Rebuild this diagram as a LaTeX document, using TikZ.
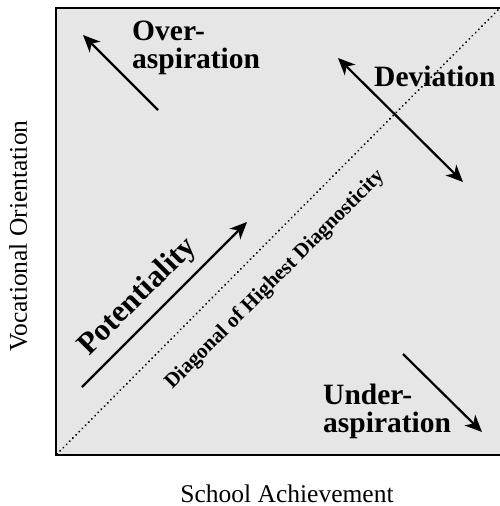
\documentclass[tikz,border=0pt]{standalone}
\usepackage{fontspec}
\setmainfont{Liberation Serif}
\usetikzlibrary{arrows.meta}
\definecolor{panel}{RGB}{230,230,230}
\begin{document}
\begin{tikzpicture}[x=1pt,y=-1pt,
  big/.style={font=\fontsize{29.5}{28}\selectfont\bfseries, inner sep=0pt},
  axislabel/.style={font=\fontsize{25.5}{28}\selectfont, inner sep=0pt},
  arr/.style={line width=2.2pt, -{Stealth[length=17pt,width=15pt,inset=5pt]}},
  darr/.style={line width=2.2pt, {Stealth[length=17pt,width=15pt,inset=5pt]}-{Stealth[length=17pt,width=15pt,inset=5pt]}},
  frameline/.style={line width=2.6pt, line cap=rect}]
\useasboundingbox (0,0) rectangle (500,506);

% panel
\fill[panel] (56,8) rectangle (500,455);
\coordinate (tl) at (56,8);
\coordinate (bl) at (56,455);
\coordinate (tr) at (500,8);
\coordinate (br) at (500,455);
\draw[frameline] (tr) -- (tl) -- (bl) -- (br);

% diagonal of highest diagnosticity
\coordinate (d0) at (57,454);
\coordinate (d1) at (499,9);
\draw[line width=2.1pt, line cap=round, dash pattern=on 0.1pt off 4.4pt] (d0) -- (d1);
\node[font=\fontsize{21}{24}\selectfont\bfseries, rotate=45, inner sep=0pt] (diaglabel) at (275,280) {Diagonal of Highest Diagnosticity};

% potentiality
\coordinate (p0) at (82,387);
\coordinate (p1) at (247,222);
\draw[arr] (p0) -- (p1);
\node[font=\fontsize{31}{31}\selectfont\bfseries, rotate=45, inner sep=0pt] (pot) at (138,297) {Potentiality};

% over-aspiration
\coordinate (o0) at (158,110);
\coordinate (o1) at (83,35);
\draw[arr] (o0) -- (o1);
\node[big, anchor=base west] (overA) at (132,40) {Over-};
\node[big, anchor=base west] (overB) at (132,68) {aspiration};

% deviation
\coordinate (v0) at (338,58);
\coordinate (v1) at (463,182);
\draw[darr] (v0) -- (v1);
\node[big, anchor=base west] (dev) at (374,86) {Deviation};

% under-aspiration
\coordinate (u0) at (403,354);
\coordinate (u1) at (482,432);
\draw[arr] (u0) -- (u1);
\node[big, anchor=base west] (underA) at (323,404) {Under-};
\node[big, anchor=base west] (underB) at (323,432) {aspiration};

% axis labels
\node[axislabel, anchor=base] (xlab) at (287,502) {School Achievement};
\node[axislabel, anchor=base, rotate=90] (ylab) at (27,236) {Vocational Orientation};
\end{tikzpicture}
\end{document}
